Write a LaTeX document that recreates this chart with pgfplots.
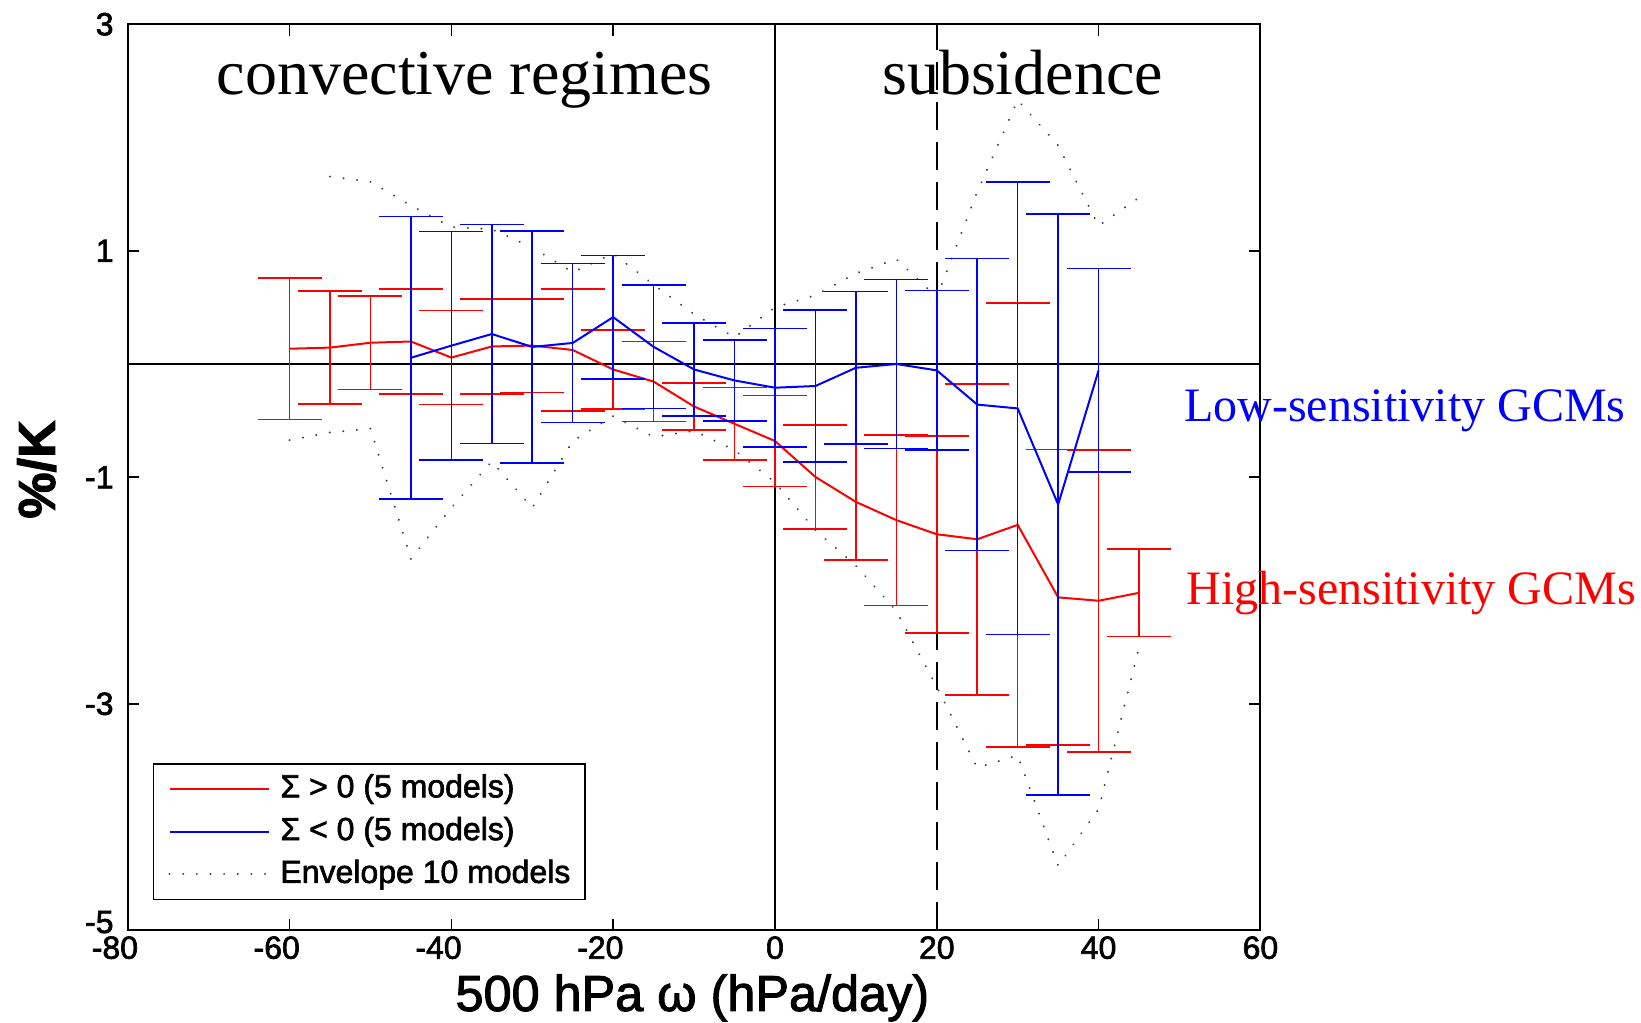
\documentclass[border=0pt]{standalone}
\usepackage{pgfplots}
\pgfplotsset{compat=1.18}
\usepackage{pgfplotstable}
\usepackage{fontspec}
\setmainfont{Liberation Sans}[RawFeature={embolden=2}]
\newfontfamily\seriffont{Liberation Serif}

% high-sensitivity GCMs (Sigma > 0): mean and half-width of error bar
\pgfplotstableread{
x y e
-60 0.135 0.624
-55 0.145 0.500
-50 0.188 0.413
-45 0.199 0.463
-40 0.057 0.414
-35 0.155 0.417
-30 0.163 0.413
-25 0.124 0.540
-20 -0.048 0.349
-15 -0.155 0.353
-10 -0.375 0.209
-5 -0.528 0.320
0 -0.679 0.402
5 -0.997 0.457
10 -1.217 0.512
15 -1.378 0.754
20 -1.503 0.869
25 -1.547 1.373
30 -1.420 1.961
35 -2.060 1.304
40 -2.090 1.333
45 -2.020 0.387
}\redtab

% low-sensitivity GCMs (Sigma < 0)
\pgfplotstableread{
x y e
-45 0.055 1.248
-40 0.162 1.008
-35 0.265 0.968
-30 0.151 1.026
-25 0.186 0.701
-20 0.414 0.545
-15 0.152 0.545
-10 -0.048 0.409
-5 -0.145 0.357
0 -0.209 0.523
5 -0.194 0.672
10 -0.033 0.674
15 0.000 0.745
20 -0.056 0.704
25 -0.358 1.289
30 -0.392 1.997
35 -1.240 2.565
40 -0.056 0.899
}\bluetab

% envelope of 10 models, upper
\pgfplotstableread{
x y
-55 1.655
-50 1.61
-45 1.40
-40 1.21
-35 1.19
-30 1.03
-25 0.81
-20 0.975
-15 0.70
-10 0.44
-5 0.236
0 0.50
5 0.607
10 0.80
15 0.926
20 0.59
25 1.52
30 2.33
35 1.93
40 1.22
45 1.47
}\envup

% envelope of 10 models, lower
\pgfplotstableread{
x y
-60 -0.672
-55 -0.604
-50 -0.57
-45 -1.72
-40 -1.27
-35 -0.86
-30 -1.27
-25 -0.68
-20 -0.46
-15 -0.643
-10 -0.59
-5 -0.76
0 -1.045
5 -1.467
10 -1.78
15 -2.18
20 -2.85
25 -3.565
30 -3.455
35 -4.43
40 -3.93
45 -2.50
}\envlo

\begin{document}
\begin{tikzpicture}
\begin{axis}[
  name=ax,
  scale only axis,
  width=283.175pt, height=226.55pt,
  xmin=-80, xmax=60, ymin=-5, ymax=3,
  xtick={-80,-60,-40,-20,0,20,40,60},
  xticklabels={{\kern-6.4pt-80},{\kern-6.4pt-60},{\kern-6.4pt-40},{\kern-6.4pt-20},0,20,40,60},
  ytick={-5,-3,-1,1,3},
  yticklabels={{\raisebox{4.2pt}{-5}},-3,-1,1,3},
  tick align=inside,
  major tick length=2.9pt,
  tick style={black, line width=0.4pt},
  axis line style={black, line width=0.5pt},
  tick label style={font=\fontsize{8}{9.6}\selectfont},
  xticklabel style={inner sep=0pt, yshift=-1.3pt},
  clip=false,
  legend style={at={(axis description cs:0.0222,0.0334)}, anchor=south west,
    draw=black, fill=white, font=\fontsize{8}{9.6}\selectfont,
    inner xsep=3.7pt, inner ysep=2.6pt, row sep=3.4pt, column sep=2.6pt,
    nodes={inner sep=0pt, text depth=0.15em}},
  legend cell align=left,
  legend image code/.code={\draw[#1] (0pt,0pt) -- (24.85pt,0pt);},
]
% reference lines
\addplot[black, line width=0.4pt, forget plot] coordinates {(-80,0) (60,0)};
\addplot[black, line width=0.4pt, forget plot] coordinates {(0,-5) (0,3)};
\addplot[black, line width=0.5pt, dash pattern=on 7pt off 3pt, forget plot] coordinates {(20,-5) (20,3)};

% envelope
\addplot[black!75, line width=0.55pt, line cap=round, dash pattern=on 0.01pt off 3.4pt, forget plot]
  table[x=x, y=y]{\envup};
\addplot[black!75, line width=0.55pt, line cap=round, dash pattern=on 0.01pt off 3.4pt, forget plot]
  table[x=x, y=y]{\envlo};

% high sensitivity
\addplot[red, line width=0.5pt, mark=none, forget plot,
  error bars/.cd, y dir=both, y explicit,
  error bar style={red, line width=0.4pt},
  error mark options={rotate=90, red, mark size=8pt, line width=0.4pt}]
  table[x=x, y=y, y error=e]{\redtab};

% low sensitivity
\addplot[blue, line width=0.5pt, mark=none, forget plot,
  error bars/.cd, y dir=both, y explicit,
  error bar style={blue, line width=0.4pt},
  error mark options={rotate=90, blue, mark size=8pt, line width=0.4pt}]
  table[x=x, y=y, y error=e]{\bluetab};

\addlegendimage{red, line width=0.5pt}
\addlegendentry{Σ > 0 (5 models)}
\addlegendimage{blue, line width=0.5pt}
\addlegendentry{Σ < 0 (5 models)}
\addlegendimage{black!75, line width=0.55pt, line cap=round, dash pattern=on 0.01pt off 3.4pt}
\addlegendentry{Envelope 10 models}

% annotations
\node[anchor=base, inner sep=0pt, font=\seriffont\fontsize{16}{19}\selectfont] at (axis cs:-38.35,2.377) {convective regimes};
\node[anchor=base, inner sep=0pt, font=\seriffont\fontsize{16}{19}\selectfont] at (axis cs:30.6,2.377) {subsidence};
\node[anchor=base west, inner sep=0pt, text=blue, font=\seriffont\fontsize{12}{14}\selectfont] at (axis cs:50.49,-0.509) {Low-sensitivity GCMs};
\node[anchor=base west, inner sep=0pt, text=red, font=\seriffont\fontsize{12}{14}\selectfont] at (axis cs:50.77,-2.121) {High-sensitivity GCMs};

% axis labels
\node[anchor=base, inner sep=0pt, font=\fontsize{12.6}{15}\selectfont] at (axis description cs:0.4985,-0.0889) {500 hPa ω (hPa/day)};
\node[rotate=90, inner sep=0pt, font=\bfseries\fontsize{13}{15}\selectfont] at (axis description cs:-0.0804,0.5086) {\%/K};
\end{axis}
\pgfresetboundingbox
\path[use as bounding box] (ax.south west) ++(-31.925pt,-23.15pt) rectangle ++(410.25pt,255.75pt);
\end{tikzpicture}
\end{document}
